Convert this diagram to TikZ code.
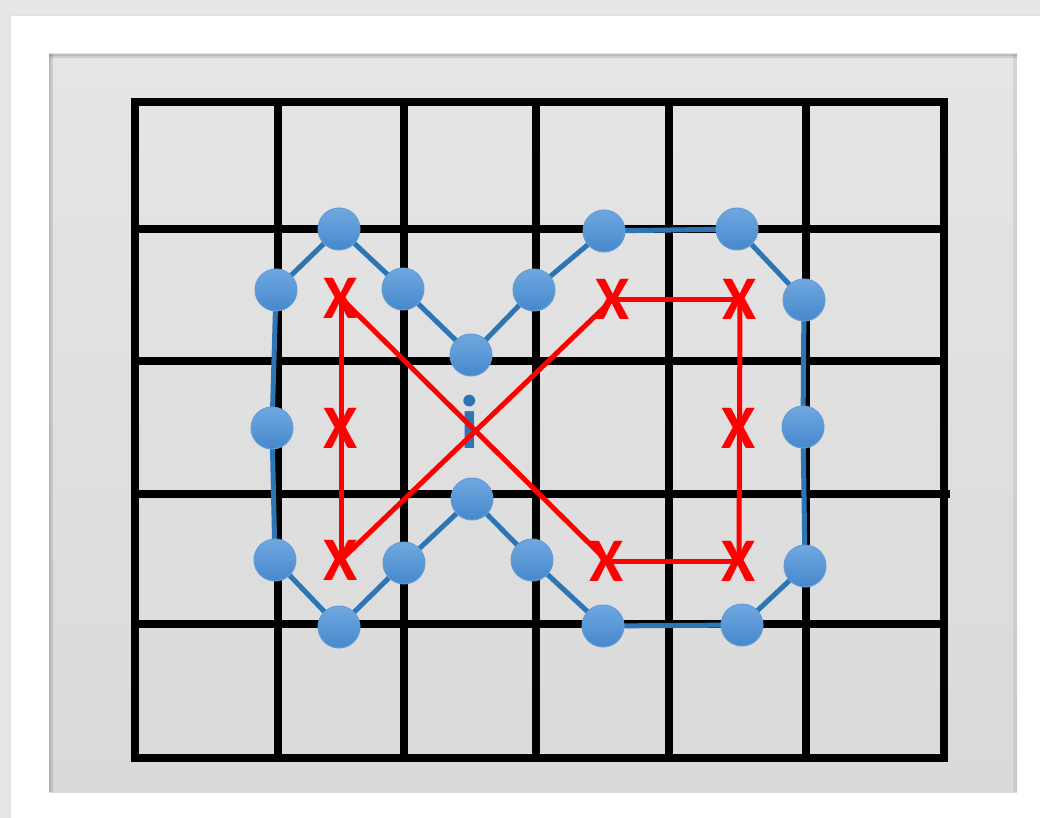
\documentclass[tikz,border=0pt]{standalone}
\usepackage{fontspec}
\setmainfont{Carlito}
\definecolor{bgout}{RGB}{230,230,230}
\definecolor{paneltop}{RGB}{229,229,229}
\definecolor{panelbot}{RGB}{218,218,218}
\definecolor{lineblue}{RGB}{46,117,182}
\definecolor{dotlight}{RGB}{112,168,224}
\definecolor{dotdark}{RGB}{70,136,204}
\definecolor{dotedge}{RGB}{100,156,214}
\definecolor{xred}{RGB}{255,0,0}
\begin{document}
\begin{tikzpicture}[x=1pt,y=-1pt,
  gridline/.style={line width=8pt, black},
  blueline/.style={line width=5pt, color=lineblue},
  redline/.style={line width=5pt, color=xred},
  dot/.style={circle, minimum size=42pt, inner sep=0pt, top color=dotlight, bottom color=dotdark, draw=dotedge, line width=1pt},
  xmark/.style={text=xred, font=\fontsize{62}{62}\selectfont\bfseries, inner sep=0pt, text depth=0pt},
  ilabel/.style={text=lineblue, font=\fontsize{76}{76}\selectfont\bfseries, inner sep=0pt, anchor=base}]
\useasboundingbox (0,0) rectangle (1040,818);
% backgrounds
\fill[bgout] (0,0) rectangle (1040,818);
\fill[black!12] (9,15) rectangle (1040,818);
\fill[white] (11,16) rectangle (1040,818);
\shade[top color=paneltop, bottom color=panelbot] (49,54) rectangle (1017,792);
\fill[black, opacity=0.10] (49,54) rectangle (1017,58);
\fill[black, opacity=0.08] (49,54) rectangle (1017,56);
\fill[black, opacity=0.10] (49,54) rectangle (53,792);
\fill[black, opacity=0.08] (49,54) rectangle (51,792);
\fill[black, opacity=0.07] (1013,54) rectangle (1017,792);
% grid
\draw[gridline] (278,102) -- (278,762);
\draw[gridline] (404,102) -- (404,758);
\draw[gridline] (536,102) -- (536,758);
\draw[gridline] (669,102) -- (669,758);
\draw[gridline] (806,102) -- (806,758);
\draw[gridline] (135,229) -- (944,229);
\draw[gridline] (135,361) -- (944,361);
\draw[gridline] (135,494) -- (950,494);
\draw[gridline] (135,624) -- (944,624);
\draw[gridline, line join=miter] (135,102) rectangle (944,758);
% i label
\node[ilabel] (ilab) at (470,448) {i};
% X coordinates
\coordinate (x1) at (341,298);
\coordinate (x2) at (613,299);
\coordinate (x3) at (740,299);
\coordinate (x4) at (341,428);
\coordinate (x5) at (739,428);
\coordinate (x6) at (341,560);
\coordinate (x7) at (607,561);
\coordinate (x8) at (739,561);
% red lines
\draw[redline] (x1) -- (x6);
\draw[redline] (x1) -- (x7);
\draw[redline] (x2) -- (x6);
\draw[redline] (x2) -- (x3);
\draw[redline] (x3) -- (x8);
\draw[redline] (x7) -- (x8);
% X marks
\foreach \n in {1,...,8} \node[xmark] (xm\n) at (x\n) {X};
% circle positions
\coordinate (c1) at (339,229);
\coordinate (c2) at (276,290);
\coordinate (c3) at (403,289);
\coordinate (c4) at (471,355);
\coordinate (c5) at (534,290);
\coordinate (c6) at (604,231);
\coordinate (c7) at (737,229);
\coordinate (c8) at (804,300);
\coordinate (c9) at (272,428);
\coordinate (c10) at (803,427);
\coordinate (c11) at (275,560);
\coordinate (c12) at (472,499);
\coordinate (c13) at (404,563);
\coordinate (c14) at (532,560);
\coordinate (c15) at (339,627);
\coordinate (c16) at (603,626);
\coordinate (c17) at (742,625);
\coordinate (c18) at (805,566);
% blue loop
\draw[blueline, line join=round] (c2) -- (c1) -- (c3) -- (c4) -- (c5) -- (c6) -- (c7) -- (c8) -- (c10) -- (c18) -- (c17) -- (c16) -- (c14) -- (c12) -- (c13) -- (c15) -- (c11) -- (c9) -- cycle;
% dots
\foreach \n in {1,...,18} \node[dot] (d\n) at (c\n) {};
\end{tikzpicture}
\end{document}
